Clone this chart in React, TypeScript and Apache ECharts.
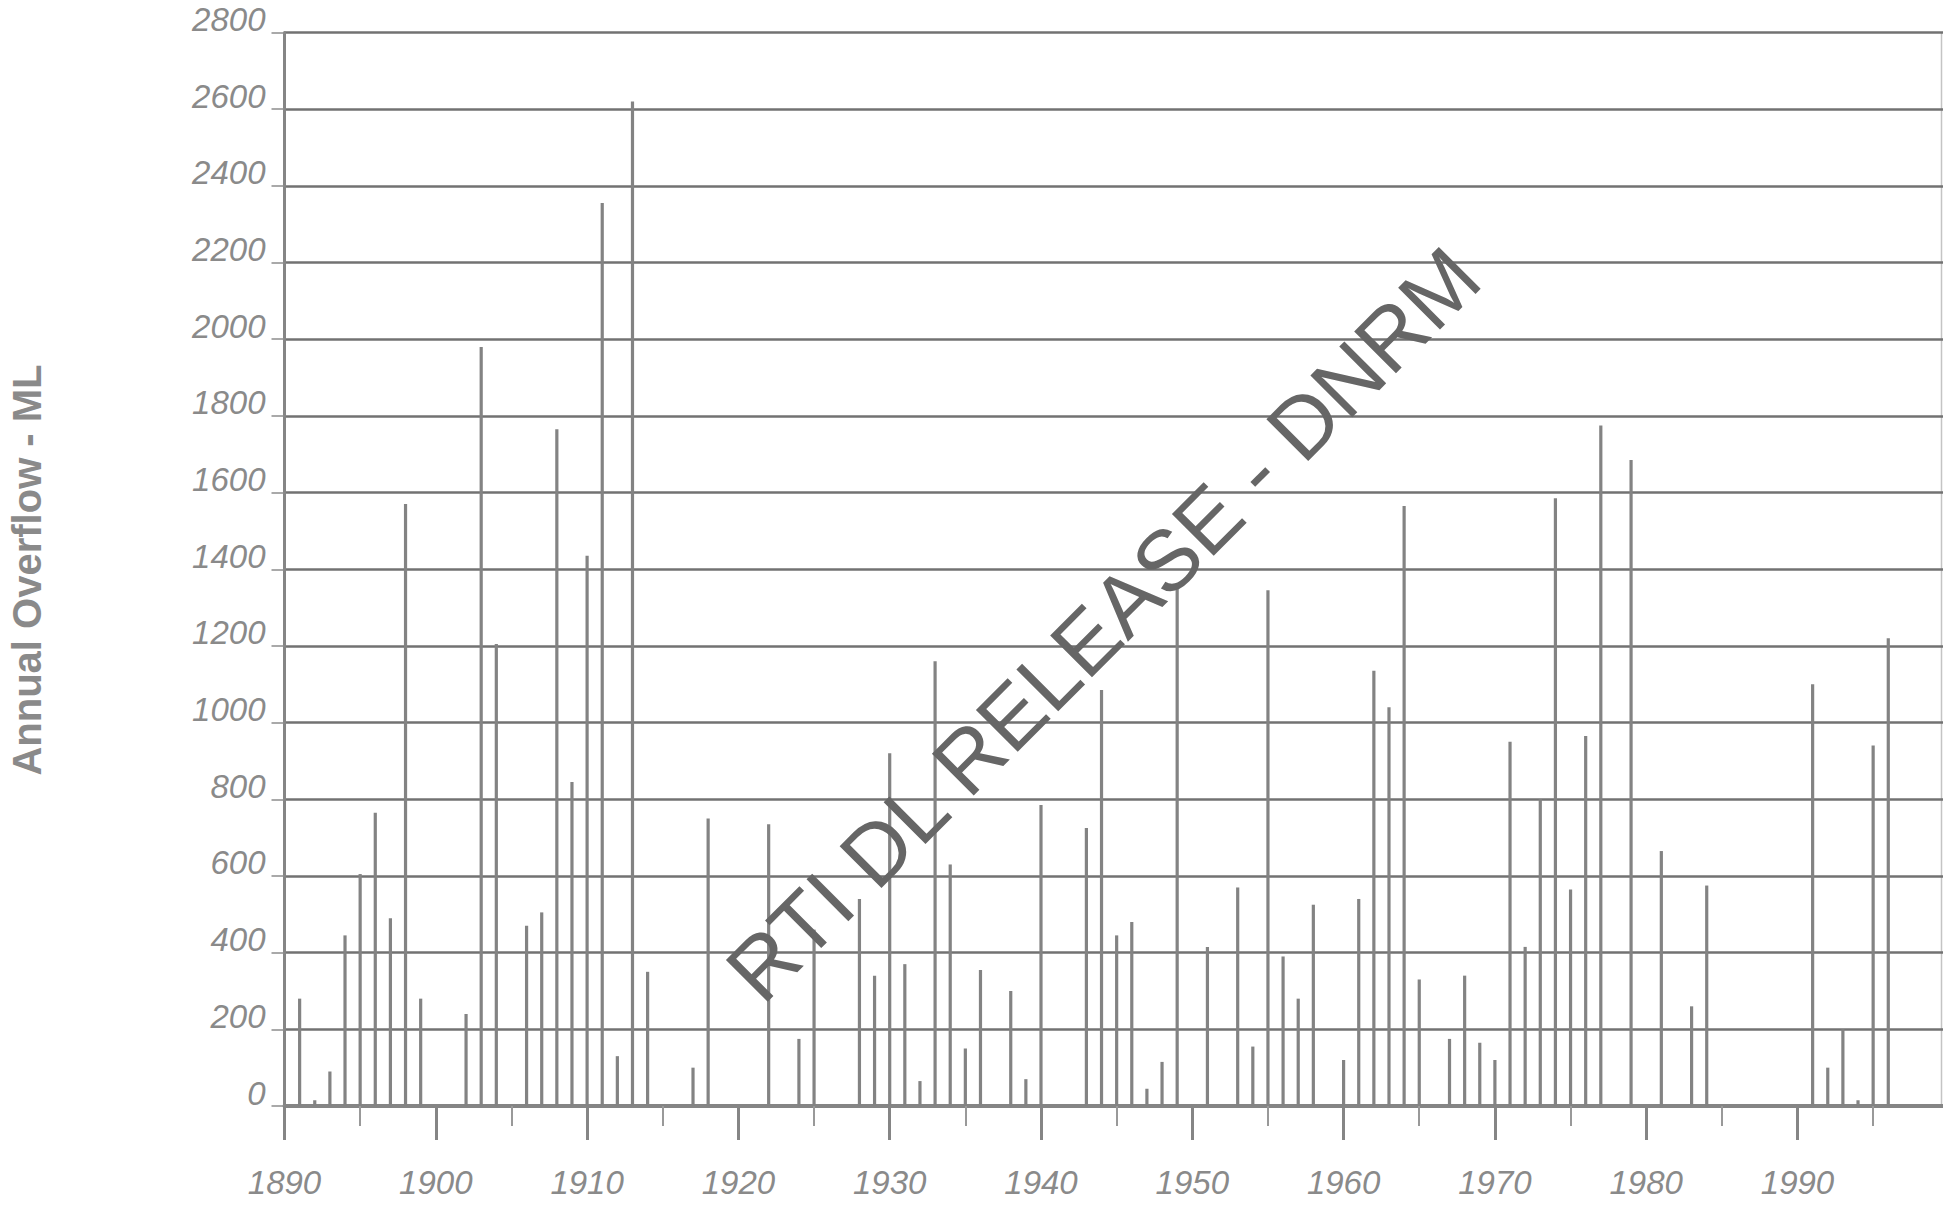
import React, { useEffect, useRef } from "react";
import * as echarts from "echarts";

const years = [
  1891, 1892, 1893, 1894, 1895, 1896, 1897, 1898, 1899, 1902, 1903, 1904, 1906, 1907, 1908, 1909,
  1910, 1911, 1912, 1913, 1914, 1917, 1918, 1922, 1924, 1925, 1928, 1929, 1930, 1931, 1932, 1933,
  1934, 1935, 1936, 1938, 1939, 1940, 1943, 1944, 1945, 1946, 1947, 1948, 1949, 1951, 1953, 1954,
  1955, 1956, 1957, 1958, 1960, 1961, 1962, 1963, 1964, 1965, 1967, 1968, 1969, 1970, 1971, 1972,
  1973, 1974, 1975, 1976, 1977, 1979, 1981, 1983, 1984, 1991, 1992, 1993, 1994, 1995, 1996,
];

const overflow = [
  280, 15, 90, 445, 605, 765, 490, 1570, 280, 240, 1980, 1205, 470, 505, 1765, 845,
  1435, 2355, 130, 2620, 350, 100, 750, 735, 175, 460, 540, 340, 920, 370, 65, 1160,
  630, 150, 355, 300, 70, 785, 725, 1085, 445, 480, 45, 115, 1355, 415, 570, 155,
  1345, 390, 280, 525, 120, 540, 1135, 1040, 1565, 330, 175, 340, 165, 120, 950, 415,
  800, 1585, 565, 965, 1775, 1685, 665, 260, 575, 1100, 100, 200, 15, 940, 1220,
];

const yAxisTitle = "Annual Overflow - ML";
const watermark = "RTI DL RELEASE - DNRM";

const FONT = '"Liberation Sans", Arial, Helvetica, sans-serif';

export default function App() {
  const ref = useRef<HTMLDivElement>(null);

  useEffect(() => {
    if (!ref.current) return;
    const chart = echarts.init(ref.current, null, { renderer: "svg" });
    chart.setOption({
      animation: false,
      backgroundColor: "#ffffff",
      grid: { left: 284.5, top: 32.5, width: 1664.3, height: 1073.5, containLabel: false },
      xAxis: {
        type: "value",
        min: 1890,
        max: 2000,
        interval: 10,
        axisLine: { show: true, onZero: false, lineStyle: { color: "#858585", width: 4 } },
        axisTick: { show: true, length: 34, lineStyle: { color: "#858585", width: 3 } },
        minorTick: { show: true, splitNumber: 2, length: 20, lineStyle: { color: "#999999", width: 2 } },
        axisLabel: {
          margin: 60,
          fontSize: 33,
          fontStyle: "italic",
          fontFamily: FONT,
          color: "#8a8a8a",
          showMaxLabel: false,
          formatter: (v: number) => String(v),
        },
        splitLine: { show: false },
        minorSplitLine: { show: false },
      },
      yAxis: {
        type: "value",
        min: 0,
        max: 2800,
        interval: 200,
        axisLine: { show: true, lineStyle: { color: "#858585", width: 3 } },
        axisTick: { show: true, length: 13, lineStyle: { color: "#8c8c8c", width: 1.5 } },
        axisLabel: {
          margin: 19,
          fontSize: 33,
          fontStyle: "italic",
          fontFamily: FONT,
          color: "#8a8a8a",
          verticalAlign: "bottom",
          lineHeight: 26,
          formatter: (v: number) => String(v),
        },
        splitLine: { show: true, lineStyle: { color: "#727272", width: 2.5 } },
      },
      series: [
        {
          type: "bar",
          data: years.map((y, i) => [y, overflow[i]]),
          barWidth: 3.2,
          itemStyle: { color: "#838383" },
          z: 3,
        },
      ],
      graphic: [
        {
          type: "text",
          x: 27,
          y: 570,
          rotation: Math.PI / 2,
          style: {
            text: yAxisTitle,
            fill: "#8a8a8a",
            font: `bold 40px ${FONT}`,
            textAlign: "center",
            textVerticalAlign: "middle",
          },
        },
        {
          type: "line",
          shape: { x1: 1941.5, y1: 32, x2: 1941.5, y2: 1106 },
          style: { stroke: "#c4c4c4", lineWidth: 1.5 },
        },
        {
          type: "text",
          x: 1103,
          y: 624,
          rotation: Math.PI / 4,
          z: 100,
          style: {
            text: watermark,
            fill: "#666666",
            font: `86px ${FONT}`,
            textAlign: "center",
            textVerticalAlign: "middle",
          },
        },
      ],
    });
    return () => chart.dispose();
  }, []);

  return (
    <div
      ref={ref}
      style={{ position: "fixed", left: 0, top: 0, width: 1960, height: 1205, background: "#fff" }}
    />
  );
}
